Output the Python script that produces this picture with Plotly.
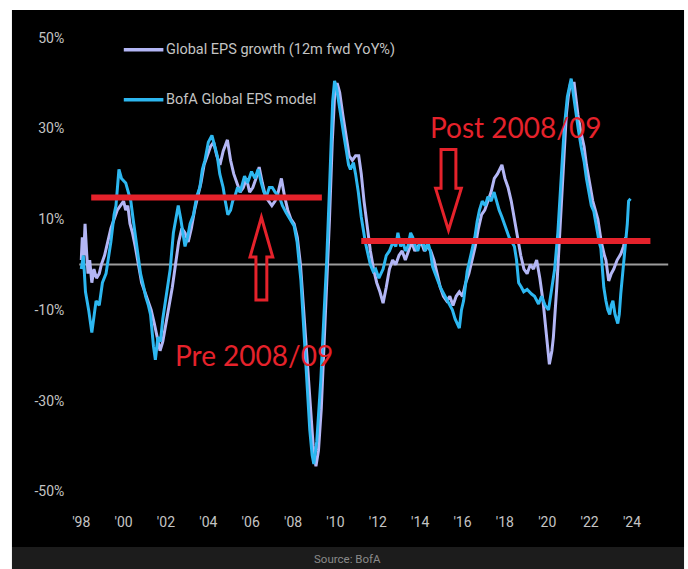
import plotly.graph_objects as go

# ---------------- data (decimal years, % YoY) ----------------
actual_t = [1998.00, 1998.05, 1998.12, 1998.18, 1998.25, 1998.32, 1998.40, 1998.50, 1998.60, 1998.72,
            1998.85, 1998.95, 1999.10, 1999.25, 1999.40, 1999.55, 1999.70, 1999.85, 2000.00, 2000.10,
            2000.20, 2000.30, 2000.42, 2000.55, 2000.70, 2000.85, 2001.00, 2001.15, 2001.30, 2001.45,
            2001.60, 2001.72, 2001.85, 2002.00, 2002.15, 2002.30, 2002.45, 2002.60, 2002.75, 2002.90,
            2003.05, 2003.20, 2003.35, 2003.50, 2003.65, 2003.80, 2003.95, 2004.10, 2004.25, 2004.40,
            2004.55, 2004.70, 2004.90, 2005.05, 2005.20, 2005.35, 2005.50, 2005.65, 2005.80, 2005.95,
            2006.10, 2006.25, 2006.40, 2006.55, 2006.70, 2006.85, 2007.00, 2007.15, 2007.30, 2007.45,
            2007.60, 2007.75, 2007.90, 2008.05, 2008.20, 2008.35, 2008.50, 2008.65, 2008.80, 2008.95,
            2009.08, 2009.20, 2009.33, 2009.45, 2009.58, 2009.72, 2009.85, 2009.97, 2010.08, 2010.20,
            2010.35, 2010.50, 2010.65, 2010.80, 2010.95, 2011.10, 2011.22, 2011.35, 2011.50, 2011.65,
            2011.80, 2011.95, 2012.10, 2012.25, 2012.40, 2012.55, 2012.70, 2012.85, 2013.00, 2013.15,
            2013.30, 2013.45, 2013.60, 2013.75, 2013.90, 2014.05, 2014.20, 2014.35, 2014.50, 2014.65,
            2014.80, 2014.95, 2015.10, 2015.25, 2015.40, 2015.55, 2015.70, 2015.85, 2016.00, 2016.15,
            2016.30, 2016.45, 2016.60, 2016.75, 2016.90, 2017.05, 2017.20, 2017.35, 2017.50, 2017.65,
            2017.86, 2018.00, 2018.15, 2018.30, 2018.45, 2018.60, 2018.75, 2018.90, 2019.05, 2019.20,
            2019.35, 2019.50, 2019.65, 2019.80, 2019.95, 2020.10, 2020.22, 2020.29, 2020.45, 2020.60,
            2020.75, 2020.90, 2020.99, 2021.10, 2021.27, 2021.45, 2021.60, 2021.74, 2021.85, 2021.97,
            2022.15, 2022.39, 2022.55, 2022.70, 2022.77, 2022.90, 2023.02, 2023.14, 2023.30, 2023.47,
            2023.60, 2023.70]
actual_v = [1, 6, 2, 9, 3, -2, 1, -4, -1, -3,
            -2, 0, 2, 5, 8, 10, 12, 13, 14, 12,
            13, 9, 7, 4, 0, -4, -6, -8, -10, -13,
            -16, -19, -17, -13, -9, -5, 0, 5, 8, 7,
            5, 8, 12, 15, 18, 22, 24, 26, 27, 24,
            22, 25, 27.5, 23, 20, 18, 16, 17, 19, 16,
            17, 19, 21.5, 18, 15, 14, 13, 14, 16, 19,
            15, 12, 10, 9, 6, 0, -10, -20, -31, -40,
            -44.5, -41, -32, -20, -5, 10, 27, 38, 40, 38,
            33, 28, 24, 23, 24, 24, 20, 14, 8, 3,
            -1, -4, -6, -8.5, -5, -1, 1, 0, 2, 3,
            1, 3, 5, 3, 4, 5, 3, 4, 3, 1,
            -2, -5, -7, -8, -7, -9, -7, -6, -7, -4,
            -2, 1, 4, 8, 11, 12, 14, 16, 19, 20,
            22, 19, 17, 14, 10, 6, 2, -1, -2, 0,
            -1, 1, -3, -8, -15, -22, -19, -16, -5, 8,
            22, 33, 37, 40, 40, 33, 29, 26, 22, 19,
            14, 10, 5, 2, 1, -3.6, -2, -1, 1, 2.3,
            4, 6]

model_t = [1998.00, 1998.10, 1998.20, 1998.35, 1998.50, 1998.60, 1998.70, 1998.85, 1999.00, 1999.17,
           1999.30, 1999.40, 1999.55, 1999.64, 1999.78, 1999.90, 2000.10, 2000.34, 2000.45, 2000.57,
           2000.70, 2000.80, 2000.95, 2001.04, 2001.17, 2001.27, 2001.41, 2001.50, 2001.62, 2001.74,
           2001.85, 2001.97, 2002.10, 2002.20, 2002.35, 2002.48, 2002.58, 2002.70, 2002.80, 2002.90,
           2003.02, 2003.14, 2003.30, 2003.45, 2003.60, 2003.72, 2003.84, 2004.00, 2004.17, 2004.30,
           2004.42, 2004.54, 2004.70, 2004.80, 2004.92, 2005.05, 2005.15, 2005.25, 2005.38, 2005.50,
           2005.62, 2005.71, 2005.85, 2006.04, 2006.20, 2006.35, 2006.50, 2006.62, 2006.74, 2006.88,
           2007.02, 2007.15, 2007.35, 2007.50, 2007.67, 2007.85, 2008.05, 2008.19, 2008.30, 2008.37,
           2008.51, 2008.65, 2008.79, 2008.90, 2008.98, 2009.12, 2009.31, 2009.45, 2009.59, 2009.73,
           2009.87, 2009.96, 2010.05, 2010.15, 2010.27, 2010.38, 2010.52, 2010.62, 2010.71, 2010.85,
           2010.95, 2011.08, 2011.22, 2011.41, 2011.55, 2011.65, 2011.78, 2011.90, 2012.05, 2012.25,
           2012.40, 2012.55, 2012.72, 2012.85, 2012.95, 2013.08, 2013.19, 2013.30, 2013.42, 2013.55,
           2013.65, 2013.78, 2013.89, 2014.00, 2014.12, 2014.25, 2014.36, 2014.48, 2014.59, 2014.70,
           2014.82, 2014.95, 2015.06, 2015.18, 2015.29, 2015.40, 2015.52, 2015.65, 2015.78, 2015.85,
           2015.95, 2016.05, 2016.22, 2016.35, 2016.46, 2016.58, 2016.69, 2016.80, 2016.93, 2017.07,
           2017.20, 2017.35, 2017.49, 2017.60, 2017.73, 2017.86, 2017.97, 2018.09, 2018.20, 2018.33,
           2018.45, 2018.55, 2018.65, 2018.78, 2018.89, 2019.05, 2019.15, 2019.26, 2019.40, 2019.50,
           2019.59, 2019.73, 2019.90, 2020.06, 2020.20, 2020.35, 2020.50, 2020.66, 2020.80, 2020.95,
           2021.04, 2021.13, 2021.25, 2021.35, 2021.46, 2021.60, 2021.74, 2021.85, 2021.97, 2022.08,
           2022.20, 2022.32, 2022.45, 2022.53, 2022.60, 2022.67, 2022.77, 2022.86, 2022.95, 2023.02,
           2023.10, 2023.20, 2023.33, 2023.40, 2023.47, 2023.58, 2023.70, 2023.78, 2023.84, 2023.93]
model_v = [-1, 2, -6, -10, -15, -11, -8, -9, -4, -2,
           2, 5, 11, 13, 21, 19, 18, 14, 10, 6,
           2, -2, -5, -7, -9, -11, -18, -21, -16, -17,
           -12, -8, -4, -1, 7, 11, 13, 10, 7, 4,
           6, 9, 11, 15, 17, 21, 23, 27, 28.5, 26,
           24, 20, 17, 14, 11, 12, 14, 15, 17, 16,
           18, 19.5, 18, 20.5, 19, 21, 18, 16, 15, 17,
           17, 16, 15, 13, 11.5, 10, 8.5, 5, 0, -3.5,
           -14.5, -25.5, -36.5, -42, -44, -39, -25.5, -12, 1, 18,
           36, 40.5, 39, 36, 32, 29, 25, 22, 21, 22.5,
           20, 16, 10.5, 5, 2, 0, -1.5, -1, -3, -1,
           2, 3, 5, 4, 7, 4, 5, 3, 4, 7,
           6, 4, 3, 5, 5, 3, 5, 3, -0.5, -2,
           -3.5, -5, -6, -7, -8, -9, -10, -12, -13.5, -14,
           -10, -8, -1.5, 1, 3, 6, 9.5, 12, 14, 13,
           15, 14, 16, 14, 12, 10.5, 9, 7, 6, 5,
           4, 1, -4, -5, -6, -5.5, -6, -6.5, -7, -8,
           -8.7, -7, -9, -10, -6, -1, 7, 20, 30, 37,
           39, 41, 37, 33, 30, 26, 22.7, 19, 16, 13,
           11.7, 8, 5, 3.6, -1, -5, -8, -10, -11, -9,
           -8, -11, -13, -11, -6.5, -1, 3.6, 9, 14, 14.5]

series_names = ["Global EPS growth (12m fwd YoY%)", "BofA Global EPS model"]
tick_years = list(range(1998, 2025, 2))
tick_labels = ["'98", "'00", "'02", "'04", "'06", "'08", "'10", "'12", "'14", "'16", "'18", "'20", "'22", "'24"]
y_ticks = [50, 30, 10, -10, -30, -50]
y_tick_labels = ["50%", "30%", "10%", "-10%", "-30%", "-50%"]

# annotation levels (red lines): pre & post GFC averages
pre_level, pre_span = 14.8, (1998.47, 2009.36)
post_level, post_span = 5.2, (2011.22, 2024.87)

# ---------------- layout helpers ----------------
W, H = 688, 569
def fx(px):
    return px / W
def fy(py):
    return 1 - py / H

COL_ACT = "#b3b6f5"
COL_MOD = "#2db7f0"
RED = "#e5222b"
GREY = "#c4c4c4"

fig = go.Figure()
fig.add_trace(go.Scatter(x=actual_t, y=actual_v, mode="lines", name=series_names[0],
                         line=dict(color=COL_ACT, width=3), showlegend=False))
fig.add_trace(go.Scatter(x=model_t, y=model_v, mode="lines", name=series_names[1],
                         line=dict(color=COL_MOD, width=3), showlegend=False))

shapes = []
# black panel & source strip
shapes.append(dict(type="rect", xref="paper", yref="paper", x0=fx(5), x1=fx(684), y0=fy(547), y1=fy(8),
                   fillcolor="#000000", line=dict(width=0), layer="below"))
shapes.append(dict(type="rect", xref="paper", yref="paper", x0=fx(5), x1=fx(684), y0=fy(569), y1=fy(547),
                   fillcolor="#1c1c1c", line=dict(width=0), layer="below"))
# zero line
shapes.append(dict(type="line", xref="x domain", yref="y", x0=0, x1=1, y0=0, y1=0,
                   line=dict(color="#9c9c9c", width=2), layer="below"))
# red average lines
shapes.append(dict(type="line", xref="x", yref="y", x0=pre_span[0], x1=pre_span[1], y0=pre_level, y1=pre_level,
                   line=dict(color=RED, width=6)))
shapes.append(dict(type="line", xref="x", yref="y", x0=post_span[0], x1=post_span[1], y0=post_level, y1=post_level,
                   line=dict(color=RED, width=6)))

def arrow_path(cx, tip, head_base, tail, head_hw, shaft_hw):
    pts = [(cx, tip), (cx + head_hw, head_base), (cx + shaft_hw, head_base), (cx + shaft_hw, tail),
           (cx - shaft_hw, tail), (cx - shaft_hw, head_base), (cx - head_hw, head_base)]
    s = "M " + " L ".join(f"{fx(x):.5f},{fy(y):.5f}" for x, y in pts) + " Z"
    return s

shapes.append(dict(type="path", xref="paper", yref="paper", path=arrow_path(257, 216, 256, 299, 11.5, 5.5),
                   line=dict(color=RED, width=3), fillcolor="rgba(0,0,0,0)"))
shapes.append(dict(type="path", xref="paper", yref="paper", path=arrow_path(446, 229, 187, 148, 13, 7.5),
                   line=dict(color=RED, width=3), fillcolor="rgba(0,0,0,0)"))

# manual legend lines
shapes.append(dict(type="line", xref="paper", yref="paper", x0=fx(118), x1=fx(158), y0=fy(48), y1=fy(48),
                   line=dict(color=COL_ACT, width=3.5)))
shapes.append(dict(type="line", xref="paper", yref="paper", x0=fx(118), x1=fx(158), y0=fy(98), y1=fy(98),
                   line=dict(color=COL_MOD, width=3.5)))

LEG_FONT = dict(family="Roboto, 'Liberation Sans', sans-serif", size=14.5, color=GREY)
annotations = [
    dict(xref="paper", yref="paper", x=fx(159), y=fy(48), xanchor="left", yanchor="middle",
         text=series_names[0], showarrow=False, font=LEG_FONT),
    dict(xref="paper", yref="paper", x=fx(159), y=fy(98), xanchor="left", yanchor="middle",
         text=series_names[1], showarrow=False, font=LEG_FONT),
    dict(xref="paper", yref="paper", x=fx(514), y=fy(125), xanchor="center", yanchor="middle",
         text="Post 2008/09", showarrow=False, font=dict(family="Lato, sans-serif", size=28, color=RED)),
    dict(xref="paper", yref="paper", x=fx(250), y=fy(354), xanchor="center", yanchor="middle",
         text="Pre 2008/09", showarrow=False, font=dict(family="Lato, sans-serif", size=28, color=RED)),
    dict(xref="paper", yref="paper", x=fx(344), y=fy(559), xanchor="center", yanchor="middle",
         text="Source: BofA", showarrow=False,
         font=dict(family="Roboto, sans-serif", size=11.5, color="#8a8a8a")),
]

# axis ranges from pixel calibration
x_left_px, x_right_px = 73, 668
px_per_year = 21.4
x0_year = 1998 + (x_left_px - 75) / px_per_year
x1_year = 1998 + (x_right_px - 75) / px_per_year
y_top_px, y_bot_px = 30, 500
zero_px, px_per_pct = 263.5, 4.55
y_top = (zero_px - y_top_px) / px_per_pct
y_bot = (zero_px - y_bot_px) / px_per_pct

AX_FONT = dict(family="Roboto, 'Liberation Sans', sans-serif", size=14, color=GREY)
fig.update_layout(
    width=W, height=H,
    margin=dict(l=0, r=0, t=0, b=0),
    paper_bgcolor="#ffffff",
    plot_bgcolor="rgba(0,0,0,0)",
    shapes=shapes,
    annotations=annotations,
    xaxis=dict(domain=[fx(x_left_px), fx(x_right_px)], range=[x0_year, x1_year],
               tickmode="array", tickvals=tick_years, ticktext=tick_labels,
               showgrid=False, zeroline=False, showline=False, ticks="",
               ticklabelstandoff=12, tickfont=AX_FONT),
    yaxis=dict(domain=[fy(y_bot_px), fy(y_top_px)], range=[y_bot, y_top],
               tickmode="array", tickvals=y_ticks, ticktext=y_tick_labels,
               showgrid=False, zeroline=False, showline=False, ticks="",
               ticklabelstandoff=14, tickfont=AX_FONT),
)

fig.write_html("out.html")
